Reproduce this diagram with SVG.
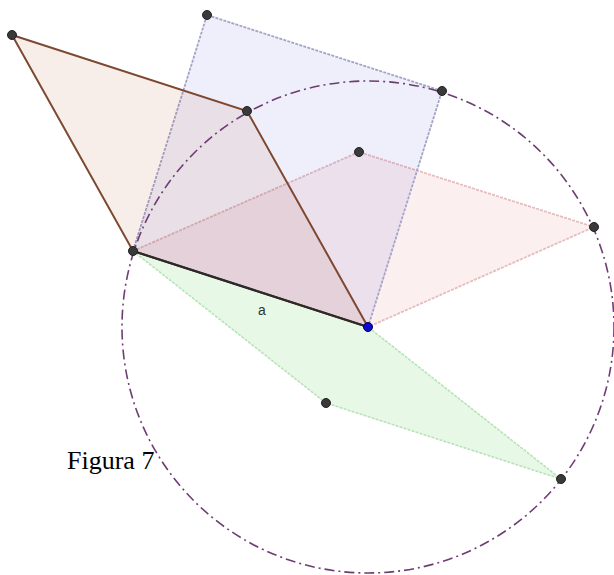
<svg xmlns="http://www.w3.org/2000/svg" width="614" height="575" viewBox="0 0 614 575">
<style>
.pt{fill:#3a3a3a;stroke:#222;stroke-width:1}
.lbl{font-family:"Liberation Sans",Arial,sans-serif;font-size:14px;fill:#333}
.cap{font-family:"Liberation Serif","Times New Roman",serif;font-size:26px;fill:#000}
.dot{stroke-dasharray:3,1.2}
</style>
<rect width="614" height="575" fill="#fff"/>
<g id="green">
<polygon class="dot" points="133,251 368,327 561,479 326,403" fill="rgb(60,200,60)" fill-opacity="0.12" stroke="#b8e2b8" stroke-width="1.6"/>
</g>
<g id="pink">
<polygon class="dot" points="133,251 359,152 594,227 368,327" fill="rgb(220,80,80)" fill-opacity="0.09" stroke="#e6bcbc" stroke-width="1.8"/>
</g>
<g id="blue">
<polygon class="dot" points="133,251 207,15 442,91 368,327" fill="rgb(80,80,220)" fill-opacity="0.09" stroke="#a4a4c8" stroke-width="1.8"/>
</g>
<g id="brown">
<polygon points="12,35 247,111 368,327 133,251" fill="rgb(170,70,20)" fill-opacity="0.09" stroke="#7d4830" stroke-width="2"/>
</g>
<g id="circle">
<circle cx="368" cy="327" r="246" fill="none" stroke="#6e3d72" stroke-width="1.6" stroke-dasharray="10,4,2,4"/>
</g>
<g id="segment">
<line x1="133" y1="251" x2="368" y2="327" stroke="#2a2a2a" stroke-width="2.2"/>
<text class="lbl" x="262" y="315" text-anchor="middle">a</text>
</g>
<g id="points">
<circle class="pt" cx="12" cy="35" r="4.5"/>
<circle class="pt" cx="207" cy="15" r="4.5"/>
<circle class="pt" cx="247" cy="111" r="4.5"/>
<circle class="pt" cx="442" cy="91" r="4.5"/>
<circle class="pt" cx="359" cy="152" r="4.5"/>
<circle class="pt" cx="594" cy="227" r="4.5"/>
<circle class="pt" cx="133" cy="251" r="4.5"/>
<circle class="pt" cx="326" cy="403" r="4.5"/>
<circle class="pt" cx="561" cy="479" r="4.5"/>
<circle cx="368" cy="327" r="4.5" fill="#0a0ad0" stroke="#000050" stroke-width="1"/>
</g>
<text class="cap" x="67" y="469">Figura 7</text>
</svg>
